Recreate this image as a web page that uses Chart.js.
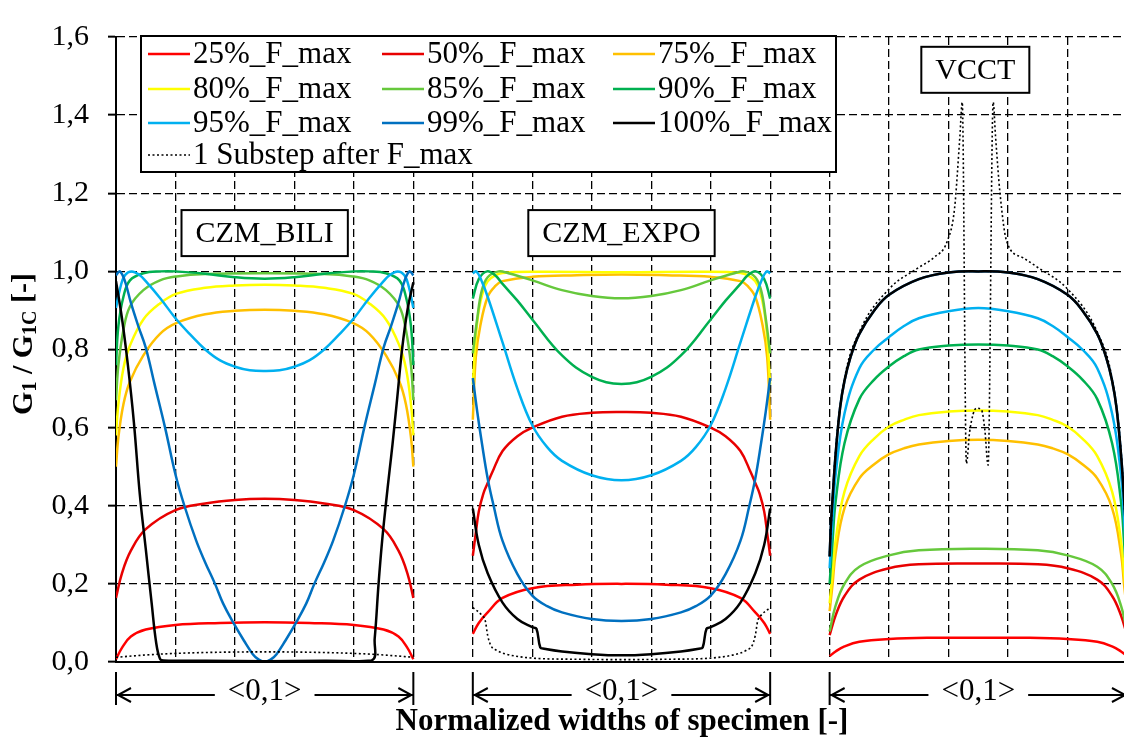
<!DOCTYPE html>
<html>
<head>
<meta charset="utf-8">
<script src="https://cdn.jsdelivr.net/npm/chart.js@4.4.0/dist/chart.umd.min.js"></script>
<style>
html, body { margin: 0; padding: 0; background: #fff; }
#wrap { width: 1124px; height: 737px; position: relative; }
</style>
</head>
<body>
<div id="wrap"><canvas id="chart"></canvas></div>
<script>
(function(){
// series names and colours
const seriesLabels = ['25%_F_max', '50%_F_max', '75%_F_max', '80%_F_max', '85%_F_max', '90%_F_max', '95%_F_max', '99%_F_max', '100%_F_max', '1 Substep after F_max'];
const seriesColors = ['#FF0000', '#E80000', '#FFC000', '#FFFF00', '#66C83C', '#00B050', '#00B0F0', '#0070C0', '#000000', '#000000'];

// panels: name and x offset (each panel spans <0,1>)
const panelNames = ['CZM_BILI', 'CZM_EXPO', 'VCCT'];
const panelOffsets = [0, 1.2, 2.4];
const yTicks = [0, 0.2, 0.4, 0.6, 0.8, 1.0, 1.2, 1.4, 1.6];

// CZM_BILI  [normalized width, G1/G1C]
const bili25 = [[0,0.007],[0.02,0.036],[0.05,0.065],[0.1,0.083],[0.2,0.095],[0.35,0.1],[0.5,0.102],[0.65,0.1],[0.8,0.095],[0.9,0.083],[0.95,0.065],[0.98,0.036],[1,0.007]];
const bili50 = [[0,0.164],[0.02,0.227],[0.05,0.285],[0.1,0.34],[0.2,0.389],[0.3,0.406],[0.4,0.415],[0.5,0.418],[0.6,0.415],[0.7,0.406],[0.8,0.389],[0.9,0.34],[0.95,0.285],[0.98,0.227],[1,0.164]];
const bili75 = [[0,0.5],[0.008,0.575],[0.025,0.66],[0.047,0.718],[0.092,0.785],[0.148,0.84],[0.204,0.868],[0.3,0.89],[0.4,0.899],[0.5,0.902],[0.6,0.899],[0.7,0.89],[0.796,0.868],[0.852,0.84],[0.908,0.785],[0.953,0.718],[0.975,0.66],[0.992,0.575],[1,0.5]];
const bili80 = [[0,0.58],[0.008,0.66],[0.025,0.752],[0.047,0.81],[0.092,0.877],[0.148,0.918],[0.204,0.943],[0.3,0.958],[0.4,0.964],[0.5,0.966],[0.6,0.964],[0.7,0.958],[0.796,0.943],[0.852,0.918],[0.908,0.877],[0.953,0.81],[0.975,0.752],[0.992,0.66],[1,0.58]];
const bili85 = [[0,0.67],[0.008,0.76],[0.025,0.85],[0.047,0.91],[0.092,0.952],[0.148,0.977],[0.204,0.987],[0.3,0.993],[0.5,0.995],[0.7,0.993],[0.796,0.987],[0.852,0.977],[0.908,0.952],[0.953,0.91],[0.975,0.85],[0.992,0.76],[1,0.67]];
const bili90 = [[0,0.76],[0.008,0.86],[0.025,0.935],[0.047,0.977],[0.092,0.995],[0.15,1.0],[0.2,1.0],[0.3,0.994],[0.4,0.985],[0.5,0.981],[0.6,0.985],[0.7,0.994],[0.8,1.0],[0.85,1.0],[0.908,0.995],[0.953,0.977],[0.975,0.935],[0.992,0.86],[1,0.76]];
const bili95 = [[0,0.906],[0.015,0.96],[0.03,0.99],[0.053,1.0],[0.08,0.99],[0.1,0.975],[0.15,0.93],[0.2,0.88],[0.25,0.838],[0.3,0.8],[0.35,0.772],[0.4,0.756],[0.45,0.747],[0.5,0.745],[0.55,0.747],[0.6,0.756],[0.65,0.772],[0.7,0.8],[0.75,0.838],[0.8,0.88],[0.85,0.93],[0.9,0.975],[0.92,0.99],[0.947,1.0],[0.97,0.99],[0.985,0.96],[1,0.906]];
const bili99 = [[0,0.99],[0.013,1.0],[0.03,0.975],[0.05,0.92],[0.075,0.86],[0.1,0.805],[0.13,0.71],[0.165,0.6],[0.2,0.48],[0.23,0.4],[0.27,0.31],[0.3,0.255],[0.333,0.2],[0.36,0.15],[0.395,0.1],[0.43,0.055],[0.46,0.02],[0.48,0.006],[0.5,0.0],[0.52,0.006],[0.54,0.02],[0.57,0.055],[0.605,0.1],[0.64,0.15],[0.667,0.2],[0.7,0.255],[0.73,0.31],[0.77,0.4],[0.8,0.48],[0.835,0.6],[0.87,0.71],[0.9,0.805],[0.925,0.86],[0.95,0.92],[0.97,0.975],[0.987,1.0],[1,0.99]];
const bili100 = [[0,0.975],[0.02,0.88],[0.04,0.76],[0.06,0.615],[0.08,0.43],[0.1,0.29],[0.12,0.15],[0.135,0.05],[0.148,0.008],[0.16,0.004],[0.3,0.003],[0.5,0.002],[0.7,0.003],[0.86,0.004],[0.87,0.06],[0.883,0.2],[0.895,0.31],[0.907,0.4],[0.92,0.49],[0.93,0.558],[0.945,0.67],[0.962,0.8],[0.98,0.9],[1,0.972]];
const biliDot = [[0,0.012],[0.1,0.018],[0.2,0.022],[0.35,0.025],[0.5,0.026],[0.65,0.025],[0.8,0.022],[0.9,0.018],[1,0.012]];

// CZM_EXPO
const expo25 = [[0,0.072],[0.02,0.1],[0.05,0.127],[0.1,0.164],[0.2,0.189],[0.35,0.198],[0.5,0.2],[0.65,0.198],[0.8,0.189],[0.9,0.164],[0.95,0.127],[0.98,0.1],[1,0.072]];
const expo50 = [[0,0.272],[0.01,0.33],[0.02,0.385],[0.035,0.43],[0.05,0.458],[0.065,0.485],[0.1,0.54],[0.15,0.578],[0.2,0.6],[0.3,0.628],[0.4,0.638],[0.5,0.64],[0.6,0.638],[0.7,0.628],[0.8,0.6],[0.85,0.578],[0.9,0.54],[0.935,0.485],[0.95,0.458],[0.965,0.43],[0.98,0.385],[0.99,0.33],[1,0.272]];
const expo75 = [[0,0.62],[0.01,0.78],[0.025,0.86],[0.05,0.935],[0.075,0.962],[0.1,0.975],[0.2,0.986],[0.35,0.99],[0.5,0.992],[0.65,0.99],[0.8,0.986],[0.9,0.975],[0.925,0.962],[0.95,0.935],[0.975,0.86],[0.99,0.78],[1,0.62]];
const expo80 = [[0,0.71],[0.01,0.83],[0.02,0.9],[0.035,0.95],[0.05,0.975],[0.075,0.99],[0.1,0.996],[0.2,0.999],[0.5,0.998],[0.8,0.999],[0.9,0.996],[0.925,0.99],[0.95,0.975],[0.965,0.95],[0.98,0.9],[0.99,0.83],[1,0.71]];
const expo85 = [[0,0.79],[0.015,0.88],[0.03,0.95],[0.05,0.985],[0.087,1.0],[0.12,0.995],[0.2,0.977],[0.3,0.952],[0.4,0.937],[0.5,0.931],[0.6,0.937],[0.7,0.952],[0.8,0.977],[0.88,0.995],[0.913,1.0],[0.95,0.985],[0.97,0.95],[0.985,0.88],[1,0.79]];
const expo90 = [[0,0.93],[0.02,0.98],[0.048,1.0],[0.075,0.99],[0.1,0.968],[0.15,0.925],[0.2,0.877],[0.3,0.785],[0.4,0.73],[0.5,0.712],[0.6,0.73],[0.7,0.785],[0.8,0.877],[0.85,0.925],[0.9,0.968],[0.925,0.99],[0.952,1.0],[0.98,0.98],[1,0.93]];
const expo95 = [[0,0.995],[0.012,1.0],[0.03,0.975],[0.05,0.935],[0.1,0.818],[0.15,0.7],[0.2,0.606],[0.25,0.55],[0.3,0.515],[0.4,0.478],[0.5,0.465],[0.6,0.478],[0.7,0.515],[0.75,0.55],[0.8,0.606],[0.85,0.7],[0.9,0.818],[0.95,0.935],[0.97,0.975],[0.988,1.0],[1,0.995]];
const expo99 = [[0,0.727],[0.015,0.64],[0.031,0.558],[0.05,0.47],[0.07,0.4],[0.1,0.31],[0.15,0.225],[0.2,0.17],[0.25,0.143],[0.3,0.127],[0.4,0.11],[0.5,0.105],[0.6,0.11],[0.7,0.127],[0.75,0.143],[0.8,0.17],[0.85,0.225],[0.9,0.31],[0.93,0.4],[0.95,0.47],[0.969,0.558],[0.985,0.64],[1,0.727]];
const expo100 = [[0,0.393],[0.02,0.3],[0.05,0.227],[0.1,0.152],[0.15,0.11],[0.2,0.089],[0.214,0.085],[0.227,0.037],[0.24,0.034],[0.3,0.027],[0.4,0.02],[0.5,0.017],[0.6,0.02],[0.7,0.027],[0.76,0.034],[0.773,0.037],[0.786,0.085],[0.8,0.089],[0.85,0.11],[0.9,0.152],[0.95,0.227],[0.98,0.3],[1,0.393]];
const expoDot = [[0,0.139],[0.03,0.12],[0.042,0.105],[0.05,0.068],[0.06,0.043],[0.08,0.03],[0.104,0.022],[0.2,0.01],[0.35,0.007],[0.5,0.006],[0.65,0.007],[0.8,0.01],[0.896,0.022],[0.92,0.03],[0.94,0.043],[0.95,0.068],[0.958,0.105],[0.97,0.12],[1,0.139]];

// VCCT
const vcct25 = [[0,0.015],[0.02,0.027],[0.05,0.04],[0.1,0.052],[0.2,0.059],[0.35,0.062],[0.5,0.062],[0.65,0.062],[0.8,0.059],[0.9,0.052],[0.95,0.04],[0.98,0.027],[1,0.015]];
const vcct50 = [[0,0.069],[0.02,0.119],[0.05,0.169],[0.1,0.211],[0.2,0.24],[0.3,0.25],[0.5,0.252],[0.7,0.25],[0.8,0.24],[0.9,0.211],[0.95,0.169],[0.98,0.119],[1,0.069]];
const vcct75 = [[0,0.13],[0.01,0.2],[0.02,0.277],[0.05,0.394],[0.1,0.47],[0.15,0.506],[0.2,0.532],[0.25,0.547],[0.3,0.557],[0.4,0.566],[0.5,0.569],[0.6,0.566],[0.7,0.557],[0.75,0.547],[0.8,0.532],[0.85,0.506],[0.9,0.47],[0.95,0.394],[0.98,0.277],[0.99,0.2],[1,0.13]];
const vcct80 = [[0,0.15],[0.01,0.23],[0.02,0.31],[0.05,0.436],[0.1,0.527],[0.15,0.572],[0.2,0.603],[0.25,0.62],[0.3,0.632],[0.4,0.641],[0.5,0.644],[0.6,0.641],[0.7,0.632],[0.75,0.62],[0.8,0.603],[0.85,0.572],[0.9,0.527],[0.95,0.436],[0.98,0.31],[0.99,0.23],[1,0.15]];
const vcct85 = [[0,0.078],[0.02,0.144],[0.05,0.2],[0.1,0.244],[0.2,0.273],[0.3,0.286],[0.5,0.29],[0.7,0.286],[0.8,0.273],[0.9,0.244],[0.95,0.2],[0.98,0.144],[1,0.078]];
const vcct90 = [[0,0.2],[0.01,0.31],[0.02,0.41],[0.05,0.56],[0.1,0.673],[0.15,0.723],[0.2,0.757],[0.25,0.783],[0.3,0.8],[0.4,0.81],[0.5,0.813],[0.6,0.81],[0.7,0.8],[0.75,0.783],[0.8,0.757],[0.85,0.723],[0.9,0.673],[0.95,0.56],[0.98,0.41],[0.99,0.31],[1,0.2]];
const vcct95 = [[0,0.24],[0.01,0.37],[0.02,0.478],[0.05,0.636],[0.1,0.752],[0.15,0.8],[0.2,0.832],[0.25,0.86],[0.3,0.88],[0.4,0.898],[0.5,0.906],[0.6,0.898],[0.7,0.88],[0.75,0.86],[0.8,0.832],[0.85,0.8],[0.9,0.752],[0.95,0.636],[0.98,0.478],[0.99,0.37],[1,0.24]];
const vcct99 = [[0,0.27],[0.005,0.36],[0.01,0.42],[0.02,0.53],[0.035,0.65],[0.05,0.72],[0.07,0.78],[0.1,0.84],[0.15,0.9],[0.2,0.94],[0.3,0.98],[0.4,0.997],[0.5,1.0],[0.6,0.997],[0.7,0.98],[0.8,0.94],[0.85,0.9],[0.9,0.84],[0.93,0.78],[0.95,0.72],[0.965,0.65],[0.98,0.53],[0.99,0.42],[0.995,0.36],[1,0.27]];
const vcct100 = [[0,0.27],[0.005,0.36],[0.01,0.42],[0.02,0.53],[0.035,0.65],[0.05,0.72],[0.07,0.78],[0.1,0.84],[0.15,0.9],[0.2,0.94],[0.3,0.98],[0.4,0.997],[0.5,1.0],[0.6,0.997],[0.7,0.98],[0.8,0.94],[0.85,0.9],[0.9,0.84],[0.93,0.78],[0.95,0.72],[0.965,0.65],[0.98,0.53],[0.99,0.42],[0.995,0.36],[1,0.27]];
const vcctDot = [[0,0.28],[0.02,0.54],[0.05,0.725],[0.1,0.845],[0.2,0.955],[0.3,1.01],[0.35,1.035],[0.396,1.078],[0.42,1.16],[0.438,1.345],[0.446,1.433],[0.46,0.508],[0.471,0.59],[0.494,0.65],[0.511,0.645],[0.522,0.594],[0.533,0.504],[0.55,1.433],[0.558,1.345],[0.573,1.2],[0.595,1.078],[0.65,1.035],[0.7,1.01],[0.8,0.955],[0.9,0.845],[0.95,0.725],[0.98,0.54],[1,0.28]];

const biliSeries = [bili25, bili50, bili75, bili80, bili85, bili90, bili95, bili99, bili100, biliDot];
const expoSeries = [expo25, expo50, expo75, expo80, expo85, expo90, expo95, expo99, expo100, expoDot];
const vcctSeries = [vcct25, vcct50, vcct75, vcct80, vcct85, vcct90, vcct95, vcct99, vcct100, vcctDot];
const panelSeries = [biliSeries, expoSeries, vcctSeries];

const SERIF = '"Liberation Serif", "Times New Roman", serif';

function buildData(i) {
    let pts = [];
    for (let p = 0; p < panelSeries.length; p++) {
        const off = panelOffsets[p];
        for (const pt of panelSeries[p][i]) {
            pts.push({x: off + pt[0], y: pt[1]});
        }
        pts.push({x: off + 1.1, y: null});
    }
    return pts;
}

const datasets = seriesLabels.map((label, i) => {
    const dotted = i === seriesLabels.length - 1;
    return {
        label: label,
        data: buildData(i),
        borderColor: seriesColors[i],
        borderWidth: dotted ? 1.6 : 2.5,
        borderDash: dotted ? [2, 2.5] : [],
        pointRadius: 0,
        fill: false,
        spanGaps: false,
        tension: 0.4,
        cubicInterpolationMode: dotted ? 'monotone' : 'default',
        order: seriesLabels.length - i
    };
});

function drawBoxLabel(ctx, text, cx, cy) {
    const w = ctx.measureText(text).width + 28;
    const h = 46;
    ctx.fillStyle = '#fff';
    ctx.fillRect(cx - w / 2, cy - h / 2, w, h);
    ctx.lineWidth = 2;
    ctx.strokeStyle = '#000';
    ctx.strokeRect(cx - w / 2, cy - h / 2, w, h);
    ctx.fillStyle = '#000';
    ctx.fillText(text, cx, cy + 1);
}

const annotations = {
    id: 'annotations',
    afterDatasetsDraw(chart) {
        const ctx = chart.ctx;
        const xs = chart.scales.x, ys = chart.scales.y;
        ctx.save();
        ctx.font = '30px ' + SERIF;
        ctx.textAlign = 'center';
        ctx.textBaseline = 'middle';
        // panel name boxes
        const nameX = [0.5, 1.7, 2.89];
        const nameY = [1.098, 1.098, 1.516];
        panelNames.forEach((name, p) => {
            drawBoxLabel(ctx, name, xs.getPixelForValue(nameX[p]), ys.getPixelForValue(nameY[p]));
        });

        // legend box
        ctx.fillStyle = '#fff';
        ctx.fillRect(141, 36, 695, 136);
        ctx.lineWidth = 2;
        ctx.strokeStyle = '#000';
        ctx.strokeRect(141, 36, 695, 136);
        const colX = [148, 382, 613];
        const rowY = [54, 89, 123, 155];
        ctx.textAlign = 'left';
        ctx.font = '31px ' + SERIF;
        chart.data.datasets.forEach((ds, i) => {
            const lx = colX[i % 3];
            const ly = rowY[Math.floor(i / 3)];
            ctx.save();
            ctx.strokeStyle = ds.borderColor;
            ctx.lineWidth = ds.borderWidth;
            ctx.setLineDash(ds.borderDash);
            ctx.beginPath();
            ctx.moveTo(lx, ly);
            ctx.lineTo(lx + 42, ly);
            ctx.stroke();
            ctx.restore();
            ctx.fillStyle = '#000';
            ctx.fillText(ds.label, lx + 45, ly + 1);
        });
        ctx.restore();
    },
    afterDraw(chart) {
        const ctx = chart.ctx;
        const xs = chart.scales.x;
        ctx.save();
        ctx.strokeStyle = '#000';
        ctx.fillStyle = '#000';
        ctx.lineWidth = 2;
        ctx.font = '31px ' + SERIF;
        ctx.textAlign = 'center';
        ctx.textBaseline = 'middle';
        const ay = 695;
        panelOffsets.forEach((off) => {
            const l = xs.getPixelForValue(off);
            const r = xs.getPixelForValue(off + 1);
            const c = (l + r) / 2;
            const tw = ctx.measureText('<0,1>').width;
            ctx.beginPath();
            ctx.moveTo(l, 672); ctx.lineTo(l, 705);
            ctx.moveTo(r, 672); ctx.lineTo(r, 705);
            ctx.moveTo(l + 1, ay); ctx.lineTo(c - tw / 2 - 13, ay);
            ctx.moveTo(c + tw / 2 + 13, ay); ctx.lineTo(r - 1, ay);
            ctx.moveTo(l + 15, ay - 7); ctx.lineTo(l + 2, ay); ctx.lineTo(l + 15, ay + 7);
            ctx.moveTo(r - 15, ay - 7); ctx.lineTo(r - 2, ay); ctx.lineTo(r - 15, ay + 7);
            ctx.stroke();
            ctx.fillText('<0,1>', c, ay - 3);
        });

        // x axis title
        ctx.font = 'bold 31px ' + SERIF;
        ctx.fillText('Normalized widths of specimen [-]', 622, 722);

        // y axis title with subscripts
        const parts = [['G', 0], ['1', 1], [' / G', 0], ['1C', 1], [' [-]', 0]];
        const mainFont = 'bold 30px ' + SERIF;
        const subFont = 'bold 20px ' + SERIF;
        let total = 0;
        parts.forEach(([t, sub]) => { ctx.font = sub ? subFont : mainFont; total += ctx.measureText(t).width; });
        ctx.translate(24, 344);
        ctx.rotate(-Math.PI / 2);
        ctx.textAlign = 'left';
        let x = -total / 2;
        parts.forEach(([t, sub]) => {
            ctx.font = sub ? subFont : mainFont;
            ctx.fillText(t, x, sub ? 7 : 0);
            x += ctx.measureText(t).width;
        });
        ctx.restore();
    }
};

new Chart(document.getElementById('chart'), {
    type: 'line',
    data: { datasets: datasets },
    options: {
        responsive: true,
        maintainAspectRatio: false,
        animation: false,
        events: [],
        layout: { padding: { top: 25, left: 0, right: 0, bottom: 0 } },
        plugins: {
            legend: { display: false },
            tooltip: { enabled: false }
        },
        scales: {
            x: {
                type: 'linear',
                min: 0,
                max: 3.39,
                afterFit: (scale) => { scale.height = 75; },
                ticks: { display: false, stepSize: 0.2, includeBounds: false },
                grid: { color: '#000', lineWidth: 1.3, drawTicks: false },
                border: { display: true, color: '#000', width: 2, dash: [8, 4] }
            },
            y: {
                min: 0,
                max: 1.6,
                afterFit: (scale) => { scale.width = 116; },
                afterBuildTicks: (scale) => { scale.ticks = yTicks.map((v) => ({value: v})); },
                ticks: {
                    color: '#000',
                    padding: 19,
                    font: { family: SERIF, size: 30 },
                    callback: (v) => v.toFixed(1).replace('.', ',')
                },
                grid: { color: '#000', lineWidth: 1.3, tickLength: 8, tickColor: '#000', tickWidth: 2, tickBorderDash: [] },
                border: { display: true, color: '#000', width: 2, dash: [8, 4] }
            }
        }
    },
    plugins: [annotations]
});
}());
</script>
</body>
</html>
